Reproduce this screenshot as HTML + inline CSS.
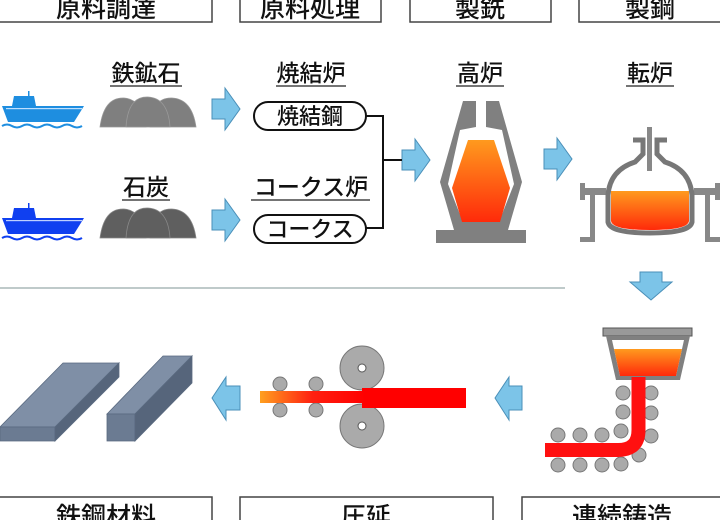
<!DOCTYPE html>
<html><head><meta charset="utf-8"><style>
html,body{margin:0;padding:0;background:#fff;}
svg{display:block;}
text{font-family:"Liberation Sans","Noto Sans CJK JP",sans-serif;fill:#111;}
</style></head><body>
<svg width="720" height="520" viewBox="0 0 720 520" xmlns="http://www.w3.org/2000/svg">
<defs>
<linearGradient id="mol" x1="0" y1="0" x2="0" y2="1"><stop offset="0" stop-color="#ff9a1e"/><stop offset="1" stop-color="#ff2a0a"/></linearGradient>
<linearGradient id="bar" x1="0" y1="0" x2="1" y2="0"><stop offset="0" stop-color="#ffa020"/><stop offset="0.5" stop-color="#ff2010"/><stop offset="1" stop-color="#ff0000"/></linearGradient>
<g id="rarrow"><polygon points="0,11 13,11 13,0 28,21 13,42 13,31 0,31" fill="#7cc4e8" stroke="#4a8fb8" stroke-width="1"/></g>
</defs>
<g fill="none" stroke="#444" stroke-width="1.5">
<rect x="-2" y="-5" width="214" height="27"/>
<rect x="240" y="-5" width="141" height="27"/>
<rect x="410" y="-5" width="141" height="27"/>
<rect x="579" y="-5" width="145" height="27"/>
<rect x="-2" y="497" width="214" height="30"/>
<rect x="240" y="497" width="253" height="30"/>
<rect x="522" y="497" width="202" height="30"/>
</g>
<g font-size="25" text-anchor="middle" font-weight="500">
<text x="106" y="17">原料調達</text>
<text x="310" y="17">原料処理</text>
<text x="480" y="17">製銑</text>
<text x="650" y="17">製鋼</text>
<text x="106" y="525">鉄鋼材料</text>
<text x="366" y="525">圧延</text>
<text x="622" y="525">連続鋳造</text>
</g>
<g font-size="23" text-anchor="middle" font-weight="500">
<text x="146" y="81">鉄鉱石</text>
<text x="146" y="195">石炭</text>
<text x="311" y="81">焼結炉</text>
<text x="311" y="195">コークス炉</text>
<text x="480" y="81">高炉</text>
<text x="650" y="81">転炉</text>
</g>
<g stroke="#222" stroke-width="1.2">
<line x1="110" y1="86" x2="182" y2="86"/><line x1="122" y1="200" x2="170" y2="200"/>
<line x1="276" y1="86" x2="346" y2="86"/><line x1="251" y1="200" x2="370" y2="200"/>
<line x1="456" y1="86" x2="504" y2="86"/><line x1="626" y1="86" x2="674" y2="86"/>
</g>
<g fill="#1e8ee0">
<rect x="28" y="91" width="1.5" height="6"/>
<polygon points="14,96 34,96 36,106 12,106"/>
<polygon points="2,106 84,106 74,122 8,122"/>
<path d="M2,126 q5,-3 10,0 t10,0 t10,0 t10,0 t10,0 t10,0 t10,0 t10,0" fill="none" stroke="#1e8ee0" stroke-width="2"/>
<rect x="6" y="108" width="76" height="1.2" fill="#bfe0ff"/>
</g>
<g fill="#1040f0" transform="translate(0,112)">
<rect x="28" y="91" width="1.5" height="6"/>
<polygon points="14,96 34,96 36,106 12,106"/>
<polygon points="2,106 84,106 74,122 8,122"/>
<path d="M2,126 q5,-3 10,0 t10,0 t10,0 t10,0 t10,0 t10,0 t10,0 t10,0" fill="none" stroke="#1040f0" stroke-width="2"/>
<rect x="6" y="108" width="76" height="1.2" fill="#bfd0ff"/>
</g>
<g fill="#7f7f7f" stroke="#999" stroke-width="0.8">
<path d="M100,127 Q104,97 124,98 Q142,99 146,127Z"/>
<path d="M150,127 Q152,97 172,98 Q192,99 196,127Z"/>
<path d="M126,127 Q128,96 148,97 Q168,98 170,127Z"/>
</g>
<g fill="#5f5f5f" stroke="#888" stroke-width="0.8">
<path d="M100,238 Q104,208 124,209 Q142,210 146,238Z"/>
<path d="M150,238 Q152,208 172,209 Q192,210 196,238Z"/>
<path d="M126,238 Q128,207 148,208 Q168,209 170,238Z"/>
</g>
<use href="#rarrow" x="212" y="88"/>
<use href="#rarrow" x="212" y="199"/>
<use href="#rarrow" x="402" y="139"/>
<use href="#rarrow" x="544" y="138"/>
<g fill="#fff" stroke="#111" stroke-width="2">
<rect x="254" y="102" width="112" height="28" rx="14"/>
<rect x="254" y="215" width="112" height="28" rx="14"/>
</g>
<g font-size="22" text-anchor="middle" font-weight="500"><text x="310" y="124">焼結鋼</text><text x="310" y="237">コークス</text></g>
<polyline points="366,116 383,116 383,228 366,228" fill="none" stroke="#111" stroke-width="2"/>
<line x1="383" y1="160" x2="402" y2="160" stroke="#111" stroke-width="2"/>
<g fill="#808080">
<polygon points="463,101 476,101 476,127 460,130 448,184 463,222 499,222 514,184 502,130 486,127 486,101 499,101 522,182 508,230 526,230 526,243 436,243 436,230 454,230 440,182"/>
</g>
<polygon points="468,140 494,140 510,188 500,222 462,222 452,188" fill="url(#mol)"/>
<g fill="#888">
<rect x="580" y="188" width="26" height="7"/><rect x="694" y="188" width="26" height="7"/>
<rect x="580" y="183" width="5" height="17"/><rect x="715" y="183" width="5" height="17"/>
<rect x="590" y="195" width="5" height="47"/><rect x="705" y="195" width="5" height="47"/>
<rect x="580" y="237" width="15" height="5"/><rect x="705" y="237" width="15" height="5"/>
<rect x="647" y="127" width="5" height="44"/>
</g>
<path d="M633,140 h10 v14 l-8,8 Q610,170 608,195 V222 Q610,233 650,233 Q690,233 692,222 V195 Q690,170 665,162 l-8,-8 v-14 h10" fill="none" stroke="#777" stroke-width="5"/>
<path d="M611,191 H689 V221 Q688,230 650,230 Q612,230 611,221Z" fill="url(#mol)"/>
<line x1="0" y1="288" x2="565" y2="288" stroke="#9aa" stroke-width="1.2"/>
<polygon points="640,272 662,272 662,282 672,282 651,300 630,282 640,282" fill="#7cc4e8" stroke="#4a8fb8"/>
<rect x="603" y="328" width="89" height="8" fill="#999" stroke="#555"/>
<polygon points="606,336 690,336 680,380 616,380" fill="#808080"/>
<polygon points="612,340 684,340 676,376 620,376" fill="#fff"/>
<polygon points="614,349 682,349 676,376 620,376" fill="url(#mol)"/>
<g fill="#aaa" stroke="#777">
<circle cx="623" cy="393" r="7"/><circle cx="651" cy="393" r="7"/>
<circle cx="623" cy="412" r="7"/><circle cx="651" cy="413" r="7"/>
<circle cx="621" cy="431" r="7"/><circle cx="651" cy="436" r="7"/>
<circle cx="639" cy="455" r="7"/>
<circle cx="558" cy="435" r="7"/><circle cx="580" cy="435" r="7"/><circle cx="602" cy="435" r="7"/>
<circle cx="558" cy="465" r="7"/><circle cx="580" cy="465" r="7"/><circle cx="602" cy="465" r="7"/><circle cx="621" cy="464" r="7"/>
</g>
<path d="M638.5,377 V430 Q638.5,450 618,450 H545" fill="none" stroke="#ff1010" stroke-width="14"/>
<polygon points="212,398 226,377 226,386 240,386 240,410 226,410 226,420" fill="#7cc4e8" stroke="#4a8fb8"/>
<polygon points="495,398 509,377 509,386 522,386 522,410 509,410 509,420" fill="#7cc4e8" stroke="#4a8fb8"/>
<g fill="#aaa" stroke="#777">
<circle cx="280" cy="384" r="7"/><circle cx="316" cy="384" r="7"/>
<circle cx="280" cy="410" r="7"/><circle cx="316" cy="410" r="7"/>
<circle cx="362" cy="368" r="22"/><circle cx="362" cy="426" r="22"/>
</g>
<g fill="#fff" stroke="#555"><circle cx="362" cy="368" r="4"/><circle cx="362" cy="426" r="4"/></g>
<rect x="362" y="388" width="104" height="20" fill="#ff0000"/>
<rect x="260" y="391" width="105" height="12" fill="url(#bar)"/>
<polygon points="0,427 63,363 119,363 55,427" fill="#7f8fa6" stroke="#5a6a80" stroke-width="0.8"/>
<polygon points="0,427 55,427 55,441 0,441" fill="#6b7b92" stroke="#5a6a80" stroke-width="0.8"/>
<polygon points="55,427 119,363 119,377 55,441" fill="#56657b" stroke="#5a6a80" stroke-width="0.8"/>
<polygon points="107,414 163,356 192,356 135,414" fill="#7f8fa6" stroke="#5a6a80" stroke-width="0.8"/>
<polygon points="107,414 135,414 135,441 107,441" fill="#6b7b92" stroke="#5a6a80" stroke-width="0.8"/>
<polygon points="135,414 192,356 192,383 135,441" fill="#56657b" stroke="#5a6a80" stroke-width="0.8"/>
</svg>
</body></html>
